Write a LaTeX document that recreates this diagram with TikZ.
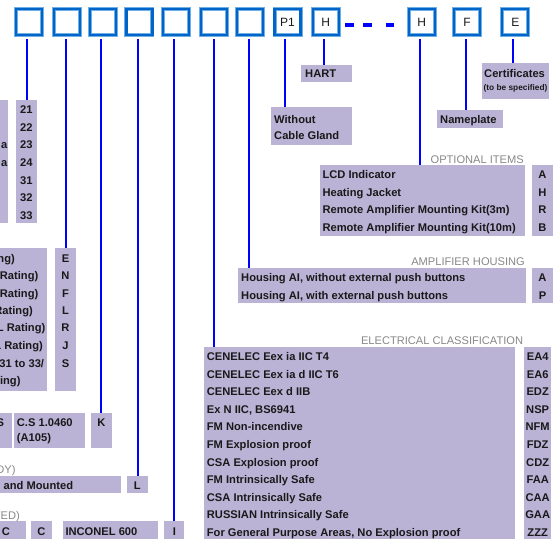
\documentclass[tikz,border=0pt]{standalone}
\usepackage{fontspec}
\setmainfont{Liberation Sans}
\definecolor{lav}{RGB}{186,179,214}
\definecolor{txtc}{RGB}{25,25,25}
\definecolor{hdrc}{RGB}{135,135,135}
\definecolor{bxdark}{RGB}{0,100,200}
\definecolor{bxlight}{RGB}{110,175,230}
\definecolor{lnblue}{RGB}{0,0,255}
\newcommand\lavbox[5]{\node[lbox,minimum width=#4pt-#2pt,minimum height=#5pt-#3pt] (#1) at (#2,#3) {};}
\begin{document}
\begin{tikzpicture}[x=1pt,y=-1pt,
  lbox/.style={fill=lav,draw=none,inner sep=0pt,outer sep=0pt,anchor=north west},
  txt/.style={font=\bfseries\fontsize{11.15}{13}\selectfont,text=txtc,inner sep=0pt,anchor=base west},
  txtr/.style={txt,anchor=base east},
  code/.style={txt,anchor=base},
  small/.style={font=\bfseries\fontsize{8.3}{10}\selectfont,text=txtc,inner sep=0pt,anchor=base west},
  hdr/.style={font=\fontsize{11.1}{13}\selectfont,text=hdrc,inner sep=0pt,anchor=base east},
  topbox/.style={draw=bxlight,double=bxdark,double distance=2.2pt,line width=0.9pt,fill=white,
    minimum width=26pt,minimum height=25.5pt,inner sep=0pt,outer sep=2pt,
    font=\fontsize{12}{14}\selectfont,text=txtc},
  conn/.style={draw=lnblue,line width=2pt},
]
\useasboundingbox (0,0) rectangle (558,539);

% ---------- top code boxes ----------
\foreach \n/\x/\t in {b1/29.2/,b2/67.2/,b3/103.2/,b4/139.4/,b5/175.9/,b6/214.3/,b7/250.2/,
  b8/287.5/P1,b9/325.7/H,b10/421.7/H,b11/467/F,b12/515.3/E}
  \node[topbox] (\n) at (\x,22) {\t};

\draw[lnblue,line width=4.5pt,dash pattern=on 9pt off 9pt on 9pt off 13.7pt on 8.3pt]
  ([xshift=4.3pt,yshift=-3pt]b9.east) -- ([xshift=-12.7pt,yshift=-3pt]b10.west);

% ---------- label boxes ----------
\lavbox{r21}{16}{100}{36.7}{223.3}
\lavbox{p21}{0}{100}{8}{223.3}
\lavbox{eS}{55}{248}{76}{390.7}
\lavbox{pE}{0}{248}{46.7}{390.7}
\lavbox{pS}{0}{413.3}{11.7}{448.3}
\lavbox{cs}{14}{413.3}{85}{448.3}
\lavbox{kK}{91}{413.3}{111.7}{448.3}
\lavbox{hm}{0}{475.7}{120.7}{492.7}
\lavbox{lL}{127}{475.7}{147.7}{492.7}
\lavbox{c1}{0}{521}{25.7}{545}
\lavbox{c2}{31}{521}{51.7}{545}
\lavbox{inc}{63}{521}{157.7}{545}
\lavbox{iI}{164.3}{521}{184.3}{545}
\lavbox{elec}{204}{347.3}{515}{545}
\lavbox{elecc}{524.3}{347.3}{551}{545}
\lavbox{hous}{238.3}{268.3}{526}{303.3}
\lavbox{housc}{532.3}{268.3}{552.7}{303.3}
\lavbox{opt}{320}{165}{525}{235.7}
\lavbox{optc}{532.3}{165}{552.7}{235.7}
\lavbox{hart}{301}{65}{351.7}{81.7}
\lavbox{wcg}{271}{107.3}{351.7}{145}
\lavbox{namep}{436.7}{110}{502.7}{127.7}
\lavbox{cert}{482}{63.3}{549.3}{99.3}

% ---------- connectors ----------
\foreach \n/\dx/\m in {b1/-2.5/r21,b2/-1.5/eS,b3/-2.5/kK,b4/-1.7/lL,b5/-2.2/iI,b6/-0.6/elec,
  b7/-1.5/hous,b8/-2.5/wcg,b9/-2/hart,b10/-1.7/opt,b11/-1/namep,b12/-2.6/cert}{
  \coordinate (s\n) at ([xshift=\dx pt,yshift=-2.6pt]\n.south);
  \draw[conn] (s\n) -- (s\n |- \m.north);
}

% ---------- texts: 21..33 ----------
\foreach \t/\y [count=\i] in {21/113.3,22/131,23/148.5,24/166.7,31/184,32/201.3,33/219}
  \node[code] (tr\i) at (26.3,\y) {\t};
\node[txtr] (pa1) at (7.5,148.5) {a};
\node[txtr] (pa2) at (7.5,166.7) {a};

% ---------- E..S ----------
\foreach \t/\y [count=\i] in {E/262.3,N/279.7,F/297.3,L/314.7,R/331.7,J/349,S/367.3}
  \node[code] (te\i) at (65.5,\y) {\t};
\foreach \t/\x/\y [count=\i] in {{ng)}/15/262.3,{Rating)}/38.5/279.7,{Rating)}/38.5/297.3,{Rating)}/33/314.7,
  {L Rating)}/45.5/331.7,{L Rating)}/43/349,{31 to 33/}/44.3/367.3,{ting)}/20.7/384}
  \node[txtr] (tp\i) at (\x,\y) {\t};

% ---------- K row ----------
\node[txtr] (tS) at (4.3,426.3) {S};
\node[txt] (tcs1) at (16.7,426.3) {C.S 1.0460};
\node[txt] (tcs2) at (16.7,441.3) {(A105)};
\node[code] (tK) at (101.5,426.3) {K};

% ---------- L row ----------
\node[hdr] (hDY) at (15.7,473.3) {DY)};
\node[txtr] (tHM) at (73.3,489) {and Mounted};
\node[code] (tL) at (137.3,489) {L};

% ---------- bottom row ----------
\node[hdr] (hTED) at (20,519) {TED)};
\node[code] (tC1) at (6,535) {C};
\node[code] (tC2) at (41.3,535) {C};
\node[txt] (tInc) at (65.3,535) {INCONEL 600};
\node[code] (tI) at (174.3,535) {I};

% ---------- electrical classification ----------
\node[hdr] (hElec) at (523.3,344.7) {ELECTRICAL CLASSIFICATION};
\foreach \t/\c [count=\i from 0] in {{CENELEC Eex ia IIC T4}/EA4,{CENELEC Eex ia d IIC T6}/EA6,
  {CENELEC Eex d IIB}/EDZ,{Ex N IIC, BS6941}/NSP,{FM Non-incendive}/NFM,{FM Explosion proof}/FDZ,
  {CSA Explosion proof}/CDZ,{FM Intrinsically Safe}/FAA,{CSA Intrinsically Safe}/CAA,
  {RUSSIAN Intrinsically Safe}/GAA,{For General Purpose Areas, No Explosion proof}/ZZZ}{
  \pgfmathsetmacro\yy{360.7+17.56*\i}
  \node[txt] (el\i) at (206.7,\yy) {\t};
  \node[code] (ec\i) at (537.7,\yy) {\c};
}

% ---------- amplifier housing ----------
\node[hdr] (hHous) at (525,265.7) {AMPLIFIER HOUSING};
\node[txt] (th1) at (241,281.7) {Housing AI, without external push buttons};
\node[txt] (th2) at (241,299.7) {Housing AI, with external push buttons};
\node[code] (thc1) at (542.5,281.7) {A};
\node[code] (thc2) at (542.5,299.7) {P};

% ---------- optional items ----------
\node[hdr] (hOpt) at (524,163) {OPTIONAL ITEMS};
\foreach \t/\c/\y [count=\i] in {LCD Indicator/A/178.3,Heating Jacket/H/196.1,
  Remote Amplifier Mounting Kit(3m)/R/213.9,Remote Amplifier Mounting Kit(10m)/B/231.7}{
  \node[txt] (to\i) at (322.3,\y) {\t};
  \node[code] (toc\i) at (542.5,\y) {\c};
}

% ---------- top labels ----------
\node[txt] (tHart) at (305,77) {HART};
\node[txt] (tW1) at (274,123) {Without};
\node[txt] (tW2) at (274,139) {Cable Gland};
\node[txt] (tName) at (440,123) {Nameplate};
\node[txt] (tCert) at (484,77.3) {Certificates};
\node[small] (tCert2) at (483.5,90.3) {(to be specified)};
\end{tikzpicture}
\end{document}
